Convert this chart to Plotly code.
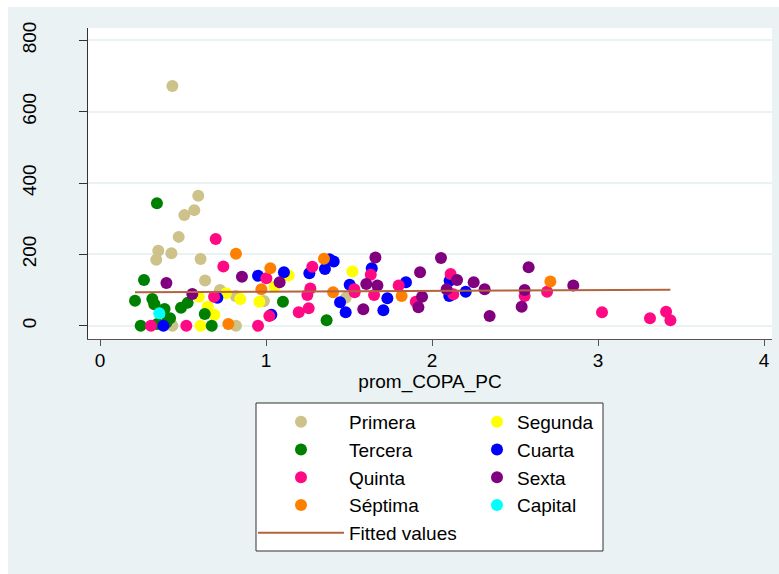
import plotly.graph_objects as go

# prom_COPA_PC (x) and outcome (y) by category
primera_x = [0.436, 0.592, 0.568, 0.508, 0.474, 0.351, 0.430, 0.339, 0.606, 0.633, 0.723, 0.817, 0.988, 1.480, 0.325, 0.436, 0.819]
primera_y = [672, 364, 324, 310, 249, 210, 203, 185, 187, 127, 100, 83, 69, 78, 60, 0, 0]

segunda_x = [0.596, 0.759, 0.845, 0.649, 0.689, 0.606, 1.052, 1.136, 0.960, 1.520]
segunda_y = [81, 91, 75, 53, 31, 0, 109, 141, 67, 152]

tercera_x = [0.343, 0.265, 0.211, 0.315, 0.328, 0.389, 0.422, 0.488, 0.528, 0.631, 0.245, 0.345, 0.400, 0.673, 1.102, 1.365]
tercera_y = [343, 128, 70, 75, 60, 47, 21, 50, 64, 33, 0, 5, 8, 0, 67, 15]

cuarta_x = [0.382, 0.707, 0.952, 1.108, 1.032, 1.261, 1.355, 1.382, 1.408, 1.446, 1.504, 1.480, 1.637, 1.731, 1.707, 1.843, 2.106, 2.104, 2.203]
cuarta_y = [0, 78, 140, 150, 31, 147, 159, 186, 180, 66, 115, 38, 161, 77, 43, 122, 126, 83, 95]

quinta_x = [0.697, 0.743, 0.307, 0.520, 0.952, 0.687, 1.002, 1.020, 1.197, 1.257, 1.249, 1.267, 1.279, 1.532, 1.534, 1.631, 1.651, 1.799, 1.902, 2.112, 2.128, 2.558, 2.693, 3.024, 3.313, 3.410, 3.436]
quinta_y = [243, 166, 0, 0, 0, 81, 133, 27, 38, 49, 86, 104, 165, 102, 94, 143, 86, 113, 67, 145, 88, 83, 95, 38, 21, 39, 15]

sexta_x = [0.400, 0.556, 0.855, 1.082, 1.586, 1.604, 1.659, 1.671, 1.928, 1.940, 1.918, 2.054, 2.151, 2.088, 2.251, 2.317, 2.347, 2.582, 2.558, 2.540, 2.851]
sexta_y = [120, 89, 137, 122, 46, 117, 191, 113, 150, 81, 52, 190, 128, 102, 122, 102, 27, 164, 100, 53, 113]

septima_x = [0.819, 1.026, 0.972, 1.349, 1.404, 0.773, 1.817, 2.713]
septima_y = [202, 161, 102, 188, 94, 5, 83, 124]

capital_x = [0.357]
capital_y = [35]

# linear fit endpoints
fit_x = [0.211, 3.436]
fit_y = [93.6, 101.0]

x_ticks = [0, 1, 2, 3, 4]
y_ticks = [0, 200, 400, 600, 800]

FONT = "Liberation Sans, Arial, sans-serif"
BG = "#EAF2F3"

groups = [
    ("Primera", primera_x, primera_y, "#CDC28A", "legend"),
    ("Segunda", segunda_x, segunda_y, "#FFFF00", "legend2"),
    ("Tercera", tercera_x, tercera_y, "#008000", "legend"),
    ("Cuarta", cuarta_x, cuarta_y, "#0000FF", "legend2"),
    ("Quinta", quinta_x, quinta_y, "#FF0A84", "legend"),
    ("Sexta", sexta_x, sexta_y, "#800080", "legend2"),
    ("Séptima", septima_x, septima_y, "#FF8000", "legend"),
    ("Capital", capital_x, capital_y, "#00FFFF", "legend2"),
]

fig = go.Figure()
for name, xs, ys, color, lg in groups:
    fig.add_trace(go.Scatter(
        x=xs, y=ys, mode="markers", name=name, legend=lg,
        marker=dict(color=color, size=12, line=dict(width=0)),
    ))

fig.add_trace(go.Scatter(
    x=fit_x, y=fit_y, mode="lines", name="Fitted values", legend="legend",
    line=dict(color="#B4643C", width=2),
))

W, H = 779, 574
ML, MR, MT, MB = 88, 7, 28, 235
PW, PH = W - ML - MR, H - MT - MB


def px(xp):
    return (xp - ML) / PW


def py(yp):
    return (H - MB - yp) / PH


legend_common = dict(
    orientation="v", xanchor="left", yanchor="top",
    bgcolor="rgba(0,0,0,0)", borderwidth=0,
    font=dict(family=FONT, size=19, color="#000000"),
    traceorder="normal",
)

fig.update_layout(
    width=W, height=H,
    margin=dict(l=ML, r=MR, t=MT, b=MB),
    paper_bgcolor=BG,
    plot_bgcolor="#FFFFFF",
    font=dict(family=FONT, size=19, color="#000000"),
    showlegend=True,
    legend=dict(x=px(253), y=py(403), itemwidth=86, **legend_common),
    legend2=dict(x=px(477), y=py(403), itemwidth=30, **legend_common),
    xaxis=dict(
        range=[-0.0723, 4.048], tickvals=x_ticks, ticktext=[str(v) for v in x_ticks],
        showgrid=False, zeroline=False, showline=True, linecolor="#555555", linewidth=1,
        ticks="outside", ticklen=6, tickcolor="#555555",
        ticklabelstandoff=-2,
        tickfont=dict(family=FONT, size=19),
        title=dict(text="prom_COPA_PC", font=dict(family=FONT, size=19), standoff=4),
    ),
    yaxis=dict(
        range=[-37.3, 834.6], tickvals=y_ticks, ticktext=[str(v) for v in y_ticks],
        showgrid=True, gridcolor=BG, gridwidth=1.5, zeroline=False,
        showline=True, linecolor="#333333", linewidth=1,
        ticks="outside", ticklen=8, tickcolor="#333333",
        tickangle=-90, ticklabelstandoff=35,
        tickfont=dict(family=FONT, size=19),
    ),
    shapes=[
        # white page margins around the grey graph region
        dict(type="rect", xref="paper", yref="paper", x0=px(0), x1=px(8), y0=py(H), y1=py(0),
             fillcolor="#FFFFFF", line=dict(width=0), layer="below"),
        dict(type="rect", xref="paper", yref="paper", x0=px(0), x1=px(W), y0=py(7), y1=py(0),
             fillcolor="#FFFFFF", line=dict(width=0), layer="below"),
        # legend frame
        dict(type="rect", xref="paper", yref="paper", x0=px(256), x1=px(603), y0=py(551), y1=py(403),
             fillcolor="#FFFFFF", line=dict(color="#333333", width=1), layer="below"),
    ],
)

fig.write_html("out.html")
